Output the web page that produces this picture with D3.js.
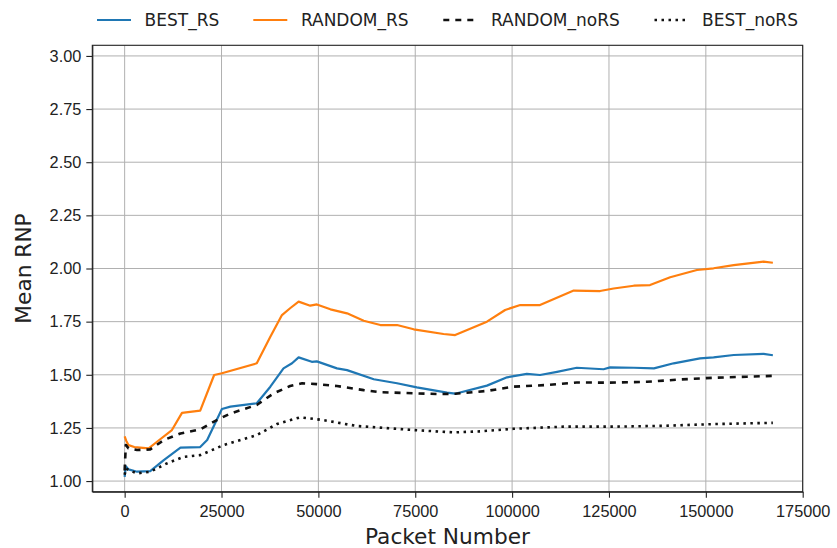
<!DOCTYPE html>
<html lang="en">
<head>
  <meta charset="UTF-8">
  <title>Mean RNP vs Packet Number</title>
  <script src="https://d3js.org/d3.v7.min.js"></script>
  <style>
    body { margin: 0; background: #fff; }
    svg { font-family: "DejaVu Sans", sans-serif; }
    .grid line { stroke: #b0b0b0; stroke-width: 1; }
    .axis path, .axis line { stroke: #222; stroke-width: 1.1; }
    .axis text { fill: #222; font-size: 16.3px; }
  </style>
</head>
<body>
  <svg width="837" height="548"></svg>

  <script>
    // values: [packet number, mean RNP]
    const bestRS = [[0,1.02],[300,1.07],[1000,1.055],[3200,1.044],[6600,1.047],[10100,1.099],[14400,1.157],[19500,1.16],[21300,1.193],[25100,1.339],[27300,1.35],[34100,1.366],[37600,1.444],[41000,1.53],[43200,1.554],[44900,1.582],[48300,1.561],[49600,1.563],[54800,1.53],[57400,1.522],[64300,1.479],[70300,1.46],[75400,1.441],[83200,1.416],[85300,1.411],[93500,1.449],[98700,1.488],[103800,1.504],[107200,1.499],[111600,1.514],[116700,1.533],[123600,1.526],[125300,1.535],[131400,1.533],[136600,1.53],[141700,1.554],[148500,1.577],[152000,1.582],[157200,1.593],[164900,1.598],[167300,1.592]];
    const randomRS = [[0,1.21],[400,1.19],[1000,1.169],[2500,1.16],[6200,1.154],[8350,1.185],[12200,1.24],[14800,1.321],[19500,1.331],[23100,1.499],[25100,1.507],[34100,1.554],[37600,1.679],[40600,1.781],[42700,1.813],[44900,1.844],[47900,1.825],[49600,1.831],[53100,1.808],[57400,1.789],[61700,1.754],[66000,1.734],[70300,1.734],[74600,1.714],[82300,1.692],[85300,1.687],[93500,1.75],[98200,1.805],[102100,1.828],[107200,1.828],[115900,1.896],[122700,1.894],[126200,1.906],[131400,1.919],[135600,1.922],[140800,1.959],[147700,1.993],[152000,2.001],[157200,2.016],[164900,2.032],[167300,2.027]];
    const randomNoRS = [[0,1.05],[300,1.17],[1000,1.154],[3200,1.146],[6600,1.149],[10100,1.193],[14400,1.224],[19500,1.243],[23800,1.287],[27300,1.318],[34100,1.358],[38500,1.413],[42700,1.447],[45800,1.46],[49600,1.456],[54800,1.447],[61700,1.428],[66000,1.418],[74600,1.413],[81500,1.409],[85300,1.411],[93500,1.424],[100400,1.444],[109000,1.452],[116700,1.464],[124500,1.463],[134800,1.467],[143400,1.478],[152000,1.486],[160600,1.491],[167300,1.495]];
    const bestNoRS = [[0,1.03],[300,1.06],[1000,1.052],[3200,1.036],[6600,1.044],[10900,1.083],[15200,1.114],[19500,1.122],[25500,1.169],[34100,1.216],[39300,1.268],[45300,1.3],[51300,1.287],[59900,1.259],[68600,1.248],[74600,1.24],[84900,1.229],[91800,1.234],[100400,1.246],[113300,1.256],[126200,1.256],[139100,1.26],[152000,1.268],[167300,1.274]];

    const seriesNames = ["BEST_RS", "RANDOM_RS", "RANDOM_noRS", "BEST_noRS"];
    const xTicks = [0, 25000, 50000, 75000, 100000, 125000, 150000, 175000];
    const yTicks = [1.00, 1.25, 1.50, 1.75, 2.00, 2.25, 2.50, 2.75, 3.00];

    const series = [
      { name: seriesNames[0], data: bestRS, color: "#1f77b4", width: 2.2, dash: null },
      { name: seriesNames[1], data: randomRS, color: "#ff7f0e", width: 2.2, dash: null },
      { name: seriesNames[2], data: randomNoRS, color: "#111", width: 2.6, dash: "6,6" },
      { name: seriesNames[3], data: bestNoRS, color: "#111", width: 2.6, dash: "2.5,4.5" }
    ];

    const svg = d3.select("svg");
    const margin = { top: 45.3, right: 34.3, bottom: 56.3, left: 92.3 };
    const width = 837 - margin.left - margin.right,
          height = 548 - margin.top - margin.bottom;

    const g = svg.append("g").attr("transform", `translate(${margin.left},${margin.top})`);

    const x = d3.scaleLinear().domain([-8350, 175000]).range([0, width]);
    const y = d3.scaleLinear().domain([0.95, 3.05]).range([height, 0]);

    // grid
    g.append("g").attr("class", "grid")
      .selectAll("line.v").data(xTicks).enter().append("line")
      .attr("x1", d => x(d)).attr("x2", d => x(d))
      .attr("y1", 0).attr("y2", height);
    g.append("g").attr("class", "grid")
      .selectAll("line.h").data(yTicks).enter().append("line")
      .attr("x1", 0).attr("x2", width)
      .attr("y1", d => y(d)).attr("y2", d => y(d));

    // lines
    const line = d3.line().x(d => x(d[0])).y(d => y(d[1]));
    g.selectAll(".series")
      .data(series)
      .enter().append("path")
      .attr("class", "series")
      .attr("fill", "none")
      .attr("stroke", d => d.color)
      .attr("stroke-width", d => d.width)
      .attr("stroke-dasharray", d => d.dash)
      .attr("stroke-linejoin", "round")
      .attr("d", d => line(d.data));

    // axes
    g.append("g").attr("class", "axis")
      .attr("transform", `translate(0,${height})`)
      .call(d3.axisBottom(x).tickValues(xTicks).tickFormat(d3.format("d")).tickSize(6).tickPadding(8).tickSizeOuter(0));
    g.append("g").attr("class", "axis")
      .call(d3.axisLeft(y).tickValues(yTicks).tickFormat(d3.format(".2f")).tickSize(6).tickPadding(5).tickSizeOuter(0));

    // frame
    g.append("rect")
      .attr("width", width).attr("height", height)
      .attr("fill", "none").attr("stroke", "#222").attr("stroke-width", 1.1);

    // axis labels
    svg.append("text")
      .attr("x", margin.left + width / 2).attr("y", 544)
      .attr("text-anchor", "middle")
      .style("font-size", "21.7px").style("fill", "#222")
      .text("Packet Number");
    svg.append("text")
      .attr("transform", `translate(31,${margin.top + height / 2}) rotate(-90)`)
      .attr("text-anchor", "middle")
      .style("font-size", "21.7px").style("fill", "#222")
      .text("Mean RNP");

    // legend
    const legendX = [97, 253.3, 443.3, 654.5];
    const legend = svg.append("g").selectAll("g")
      .data(series).enter().append("g")
      .attr("transform", (d, i) => `translate(${legendX[i]},20)`);
    legend.append("line")
      .attr("x1", 0).attr("x2", 34)
      .attr("stroke", d => d.color)
      .attr("stroke-width", d => d.width)
      .attr("stroke-dasharray", d => d.dash);
    legend.append("text")
      .attr("x", 47.6).attr("y", 6.2)
      .style("font-size", "17px").style("fill", "#222")
      .text(d => d.name);
  </script>
</body>
</html>
